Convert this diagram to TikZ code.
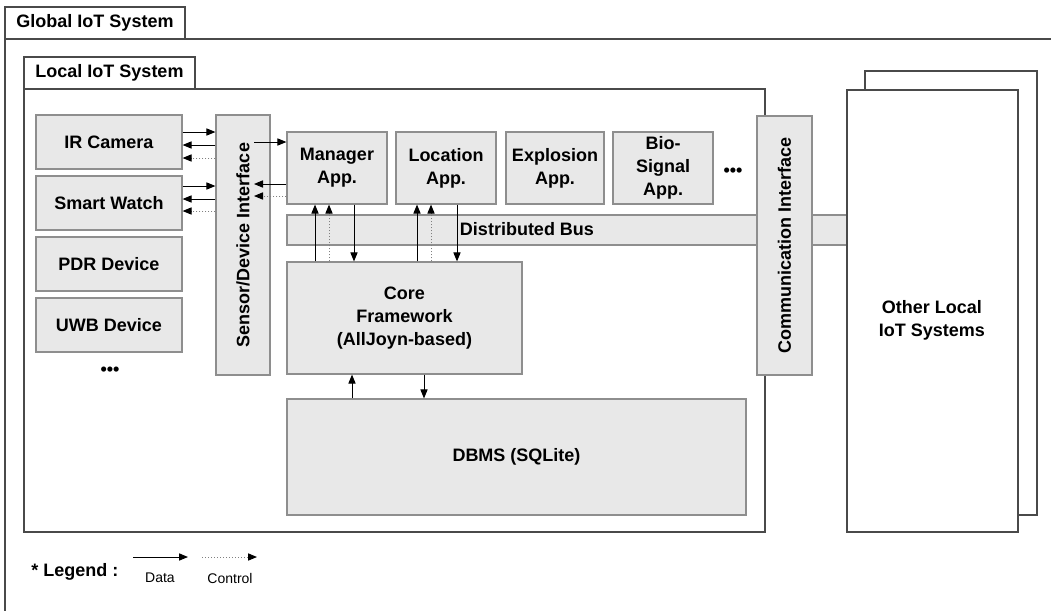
\documentclass[tikz,border=0pt]{standalone}
\usepackage{fontspec}
\setmainfont{Liberation Sans}
\usetikzlibrary{arrows.meta,positioning,calc}

\definecolor{boxgray}{HTML}{E8E8E8}
\definecolor{linegray}{HTML}{8E8E8E}
\definecolor{framegray}{HTML}{4A4A4A}

\tikzset{
	box/.style={draw=linegray, fill=boxgray, line width=0.6pt, inner sep=0pt, align=center, font=\bfseries\fontsize{9}{11.5}\selectfont},
	frame/.style={draw=framegray, line width=0.6pt, inner sep=0pt},
	tab/.style={frame, fill=white, font=\bfseries\fontsize{9}{11}\selectfont},
	lbl/.style={align=center, inner sep=0pt, font=\bfseries\fontsize{9}{11.5}\selectfont},
	small/.style={inner sep=0pt, font=\fontsize{7}{8}\selectfont},
	data/.style={-{Triangle[length=4.5pt,width=3.6pt]}, line width=0.5pt},
	ctrl/.style={-{Triangle[length=4.5pt,width=3.6pt,color=black]}, line width=0.5pt, densely dotted, draw=gray},
	device/.style={box, minimum width=73pt, minimum height=27pt},
	app/.style={box, minimum width=50pt, minimum height=36pt},
}

\begin{document}
\begin{tikzpicture}[x=0.5pt, y=-0.5pt]
	\useasboundingbox (0,0) rectangle (1051,611); % Rand wie Vorlage
	
	% Global frame (offen nach rechts/unten)
	\draw[frame] (5,620) -- (5,39) -- (1060,39);
	\node[tab, minimum width=90pt, minimum height=16pt] (gtab) at (95,23) {Global IoT System};
	
	% Local frame
	\node[frame, fill=white, minimum width=370.5pt, minimum height=221.5pt] (local) at (394.5,310.5) {};
	\node[tab, minimum width=85.5pt, minimum height=16pt] (ltab) at (109.5,73) {Local IoT System};
	
	% Other local systems
	\node[frame, fill=white, minimum width=86pt, minimum height=222pt] (other2) at (951,293) {};
	
	% Bus
	\node[box, minimum width=280pt, minimum height=15pt] (bus) at (567,230) {};
	\node[lbl] (buslbl) at (527,229) {Distributed Bus};
	
	\node[frame, fill=white, minimum width=85.5pt, minimum height=221pt] (other) at (932.5,311) {};
	\node[lbl] (otherlbl) at (932,320) {Other Local\\IoT Systems};
	
	% Devices
	\node[device] (ir) at (109,142) {IR Camera};
	\node[device] (sw) at (109,203) {Smart Watch};
	\node[device] (pdr) at (109,264) {PDR Device};
	\node[device] (uwb) at (109,325) {UWB Device};
	\node[lbl] (devdots) at (110,371) {•••};
	
	% Interfaces
	\node[box, minimum width=27pt, minimum height=130pt] (sdi) at (243,245) {};
	\node[lbl, rotate=90] (sdilbl) at (sdi.center) {Sensor/Device Interface};
	\node[box, minimum width=27.5pt, minimum height=129.5pt] (ci) at (784.5,245.5) {};
	\node[lbl, rotate=90] (cilbl) at (ci.center) {Communication Interface};
	
	% Apps
	\node[app] (mgr) at (337,168) {Manager\\App.};
	\node[app] (loc) at (446,168) {Location\\App.};
	\node[app, minimum width=49pt] (expl) at (555,168) {Explosion\\App.};
	\node[app] (bio) at (663,168) {Bio-\\Signal\\App.};
	\node[lbl] (appdots) at (733,172) {•••};
	
	% Core + DB
	\node[box, minimum width=117.5pt, minimum height=56pt] (core) at (404.5,318) {Core\\Framework\\(AllJoyn-based)};
	\node[box, minimum width=229.5pt, minimum height=58pt] (dbms) at (516.5,457) {DBMS (SQLite)};
	
	% Pfeile Geraete <-> Interface
	\draw[data] (ir.east |- 0,132) -- (sdi.west |- 0,132);
	\draw[data] (sdi.west |- 0,145) -- (ir.east |- 0,145);
	\draw[ctrl] (sdi.west |- 0,158) -- (ir.east |- 0,158);
	\draw[data] (sw.east |- 0,186) -- (sdi.west |- 0,186);
	\draw[data] (sdi.west |- 0,199) -- (sw.east |- 0,199);
	\draw[ctrl] (sdi.west |- 0,211) -- (sw.east |- 0,211);
	
	% Interface <-> Manager
	\coordinate (sdiin) at (254,0);
	\draw[data] (sdiin |- 0,142) -- (mgr.west |- 0,142);
	\draw[data] (mgr.west |- 0,184) -- (sdiin |- 0,184);
	\draw[ctrl] (mgr.west |- 0,196) -- (sdiin |- 0,196);
	
	% Apps <-> Core
	\draw[data] (core.north -| 315,0) -- (mgr.south -| 315,0);
	\draw[ctrl] (core.north -| 329,0) -- (mgr.south -| 329,0);
	\draw[data] (mgr.south -| 354,0) -- (core.north -| 354,0);
	\draw[data] (core.north -| 417,0) -- (loc.south -| 417,0);
	\draw[ctrl] (core.north -| 431,0) -- (loc.south -| 431,0);
	\draw[data] (loc.south -| 457,0) -- (core.north -| 457,0);
	
	% Core <-> DBMS
	\draw[data] (dbms.north -| 352,0) -- (core.south -| 352,0);
	\draw[data] (core.south -| 424,0) -- (dbms.north -| 424,0);
	
	% Legende
	\node[lbl, anchor=west] (legend) at (31,572) {* Legend :};
	\coordinate (d1) at (133,557);
	\coordinate (d2) at (188,557);
	\coordinate (c1) at (202,557);
	\coordinate (c2) at (257,557);
	\draw[data] (d1) -- (d2);
	\draw[ctrl] (c1) -- (c2);
	\node[small] (datalbl) at (160,578) {Data};
	\node[small] (ctrllbl) at (230,578) {Control};
	
	%\draw[help lines, step=50] (0,0) grid (1051,611);
\end{tikzpicture}
\end{document}
